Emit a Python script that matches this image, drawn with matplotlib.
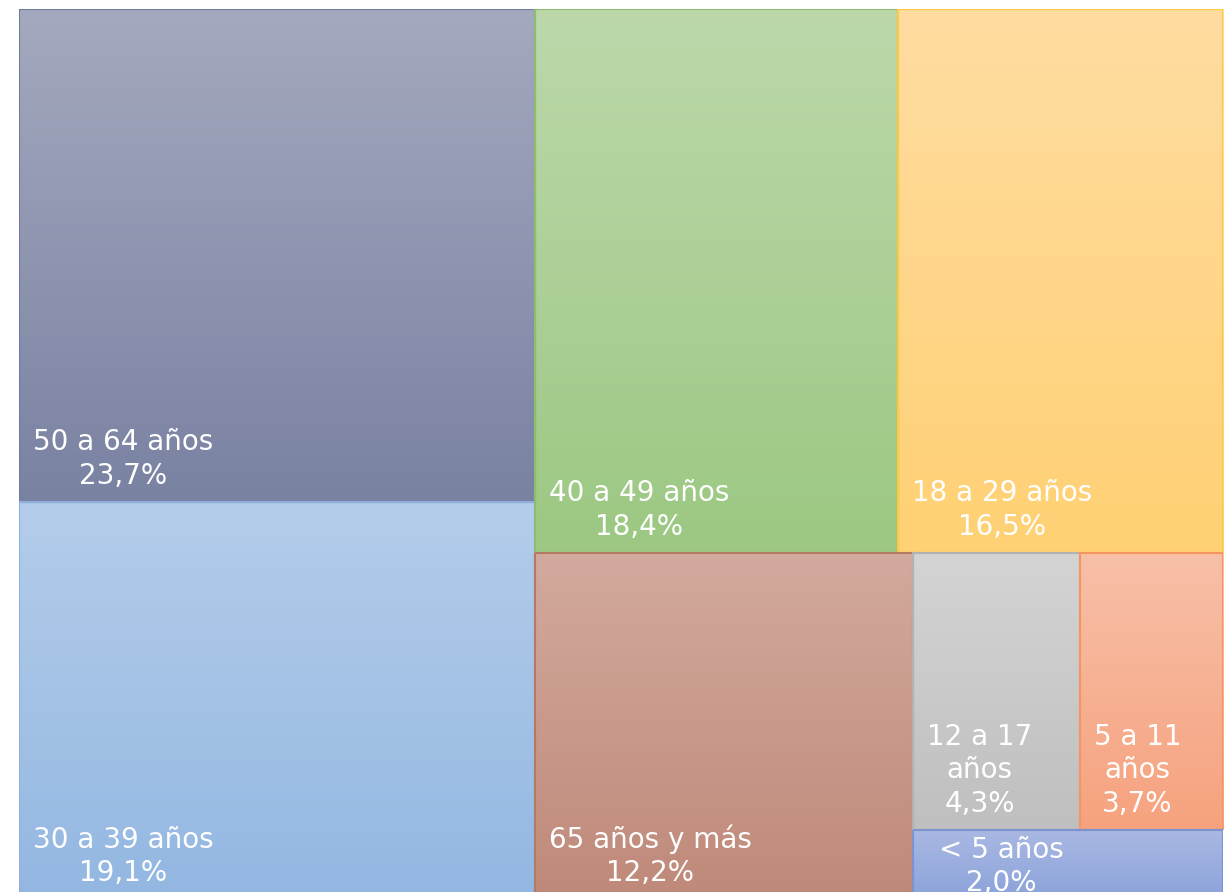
import textwrap

import matplotlib
matplotlib.use("Agg")
import matplotlib.pyplot as plt
import numpy as np
from matplotlib.colors import LinearSegmentedColormap
from matplotlib.patches import Rectangle

# datos: distribución por grupo de edad (%)
categories = ["50 a 64 años", "30 a 39 años", "40 a 49 años", "18 a 29 años",
              "65 años y más", "12 a 17 años", "5 a 11 años", "< 5 años"]
values = [23.7, 19.1, 18.4, 16.5, 12.2, 4.3, 3.7, 2.0]

top_colors = ["#a4a9bf", "#b4cdea", "#bcd8ab", "#ffdca1", "#d3aa9e", "#d4d4d4", "#f8c0a8", "#aab9e3"]
bottom_colors = ["#7a82a2", "#93b7e2", "#9cc882", "#ffd174", "#bf8979", "#bfbfbf", "#f6a27e", "#8ba2da"]
edge_colors = ["#6f7a9c", "#8eaedb", "#8cbd70", "#ffc93e", "#b57a66", "#b2b2b2", "#f3965f", "#7a94d1"]

W, H = 1204.0, 890.0


def worst(row, side):
    s = sum(row)
    return max(max(side * side * r / (s * s), s * s / (side * side * r)) for r in row)


def squarify(vals, x, y, w, h):
    total = sum(vals)
    areas = [v / total * w * h for v in vals]
    out = []
    while areas:
        side = min(w, h)
        row = [areas.pop(0)]
        while areas and worst(row + [areas[0]], side) <= worst(row, side):
            row.append(areas.pop(0))
        s = sum(row)
        if w >= h:
            cw = s / h
            yy = y
            for a in row:
                out.append((x, yy, cw, a / cw))
                yy += a / cw
            x += cw
            w -= cw
        else:
            rh = s / w
            xx = x
            for a in row:
                out.append((xx, y, a / rh, rh))
                xx += a / rh
            y += rh
            h -= rh
    return out


rects = squarify(values, 0, 0, W, H)

fig = plt.figure(figsize=(12.27, 8.92), dpi=100)
ax = fig.add_axes([19 / 1227, -7 / 892, W / 1227, H / 892])

grad = np.linspace(0, 1, 256).reshape(-1, 1)
txt = dict(color="white", fontsize=20, family="DejaVu Sans",
           multialignment="center", linespacing=1.25, zorder=3)
for (x, y, w, h), name, v, c0, c1, ec in zip(rects, categories, values,
                                             top_colors, bottom_colors, edge_colors):
    cmap = LinearSegmentedColormap.from_list("g", [c0, c1])
    ax.imshow(grad, cmap=cmap, extent=(x, x + w, y, y + h), origin="lower",
              aspect="auto", interpolation="bilinear", zorder=1)
    ax.add_patch(Rectangle((x, y), w, h, fill=False, edgecolor=ec, lw=1.5, zorder=2))

    label = textwrap.fill(name, 7) if w < 200 else name
    label += "\n" + f"{v:.1f}".replace(".", ",") + "%"
    if h < 100:
        ax.text(x + 26, y + 6, label, ha="left", va="top", **txt)
    else:
        ax.text(x + 14, y + h - 12, label, ha="left", va="bottom", **txt)

ax.set_xlim(0, W)
ax.set_ylim(H, 0)
ax.set_axis_off()

fig.savefig("out.png", dpi=100)
